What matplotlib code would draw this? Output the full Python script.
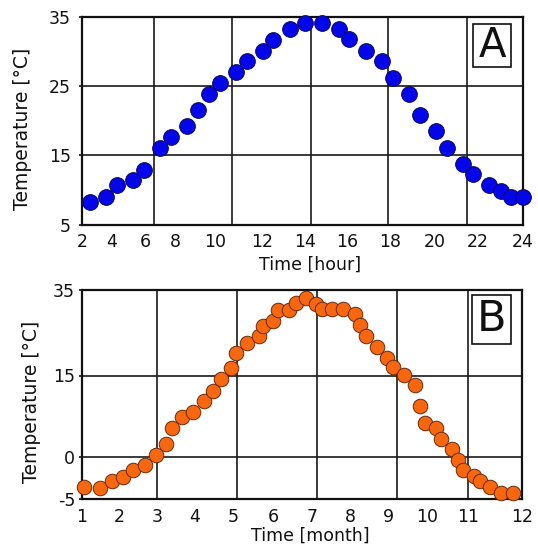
import numpy as np
import matplotlib
matplotlib.use("Agg")
import matplotlib.pyplot as plt
from matplotlib.patches import Rectangle

# ---------------- data ----------------
# Panel A: daily temperature cycle
hour = [2.54, 3.62, 4.34, 5.30, 5.94, 7.00, 7.73, 8.59, 9.17, 9.70, 10.21,
        10.90, 11.36, 12.05, 12.54, 13.32, 14.02, 14.82, 15.62, 16.11, 16.88,
        17.61, 18.15, 18.84, 19.33, 20.05, 20.54, 21.29, 21.78, 22.51, 23.01,
        23.48, 24.00]
temp_hour = [8.2, 9.0, 10.65, 11.4, 12.9, 16.1, 17.65, 19.25, 21.5, 23.85,
             25.5, 27.0, 28.6, 30.1, 31.7, 33.2, 34.1, 34.1, 33.2, 31.8, 30.1,
             28.6, 26.2, 23.85, 20.8, 18.5, 16.1, 13.8, 12.25, 10.65, 9.8,
             9.0, 9.0]

# Panel B: yearly temperature cycle
month = [1.05, 1.48, 1.80, 2.09, 2.37, 2.69, 2.97, 3.24, 3.39, 3.67, 3.96,
         4.23, 4.48, 4.67, 4.93, 5.07, 5.35, 5.63, 5.74, 5.98, 6.13, 6.42,
         6.58, 6.84, 7.11, 7.26, 7.53, 7.83, 8.12, 8.27, 8.42, 8.70, 8.97,
         9.12, 9.40, 9.69, 9.82, 9.95, 10.22, 10.35, 10.62, 10.75, 10.87,
         11.10, 11.21, 11.41, 11.62, 11.83]
temp_month = [-3.6, -3.7, -2.9, -2.35, -1.6, -1.0, 0.37, 2.4, 5.3, 7.3, 8.3,
              10.3, 12.2, 14.3, 16.7, 20.3, 22.7, 24.2, 26.6, 27.8, 30.3,
              30.3, 31.9, 33.1, 31.8, 30.5, 30.5, 30.5, 29.3, 26.8, 24.2,
              21.6, 19.2, 16.9, 15.1, 13.25, 9.3, 6.3, 5.4, 3.3, 1.4, -0.36,
              -1.6, -2.26, -2.9, -3.6, -4.25, -4.25]

hour_ticks = [2, 4, 6, 8, 10, 12, 14, 16, 18, 20, 22, 24]
month_ticks = [1, 2, 3, 4, 5, 6, 7, 8, 9, 10, 11, 12]
tempA_ticks = [5, 15, 25, 35]
tempB_ticks = [-5, 0, 15, 35]

gridA_x = [6.6, 10.73, 14.29, 17.91, 21.49]
gridA_y = [15, 25]
gridB_x = [3.0, 5.1, 7.15, 9.23, 11.0]
gridB_y = [0, 15]

# non-uniform axis scales of the original figure (knots: value -> relative position)
hour_knots = [0, 29.7, 63, 93, 133, 179.7, 223, 265, 308, 353, 396, 440.7]
month_knots = [0, 37.3, 74.7, 113, 151.3, 191.3, 229.7, 268, 306.3, 344.7, 386.3, 439.7]
tempB_knots = [0, 42, 123.5, 209]


def make_scale(vals, knots):
    vals = np.asarray(vals, float)
    knots = np.asarray(knots, float)
    return (lambda v: np.interp(v, vals, knots),
            lambda k: np.interp(k, knots, vals))


W, H = 538, 551
fig = plt.figure(figsize=(W / 100, H / 100), dpi=100)
fig.patch.set_facecolor("white")

FONT = "DejaVu Sans"
plt.rcParams["font.family"] = FONT

axA = fig.add_axes([82 / W, 1 - 224.5 / H, 440.7 / W, 207.5 / H])
axB = fig.add_axes([82 / W, 1 - 499 / H, 439.7 / W, 209 / H])

# ---- panel A ----
axA.set_xscale("function", functions=make_scale(hour_ticks, hour_knots))
axA.set_xlim(2, 24)
axA.set_ylim(5, 35)
axA.set_xticks(hour_ticks)
axA.set_xticklabels([str(t) for t in hour_ticks])
axA.set_yticks(tempA_ticks)
axA.set_yticklabels([str(t) for t in tempA_ticks])
axA.scatter(hour, temp_hour, s=128, c="#0505ea", edgecolors="#0a0a50",
            linewidths=0.7, zorder=3, clip_on=False)

# ---- panel B ----
axB.set_xscale("function", functions=make_scale(month_ticks, month_knots))
axB.set_yscale("function", functions=make_scale(tempB_ticks, tempB_knots))
axB.set_xlim(1, 12)
axB.set_ylim(-5, 35)
axB.set_xticks(month_ticks)
axB.set_xticklabels([str(t) for t in month_ticks])
axB.set_yticks(tempB_ticks)
axB.set_yticklabels([str(t) for t in tempB_ticks])
axB.scatter(month, temp_month, s=110, c="#f7670f", edgecolors="#6a2a08",
            linewidths=0.7, zorder=3, clip_on=False)

for ax, gx, gy, ypad, xpad in ((axA, gridA_x, gridA_y, 5.5, 6.0),
                               (axB, gridB_x, gridB_y, 2.5, 6.5)):
    ax.grid(False)
    for v in gx:
        ax.axvline(v, color="#1a1a1a", linewidth=1.2, zorder=1)
    for v in gy:
        ax.axhline(v, color="#1a1a1a", linewidth=1.2, zorder=1)
    for sp in ax.spines.values():
        sp.set_linewidth(1.6)
        sp.set_color("#111111")
    ax.tick_params(axis="x", which="both", length=0, pad=xpad,
                   labelsize=12.5, colors="#111111")
    ax.tick_params(axis="y", which="major", length=2.5, width=1.2,
                   direction="out", pad=ypad, labelsize=12.5, colors="#111111")
    ax.tick_params(which="minor", length=0, labelbottom=False, labelleft=False)

axA.set_xlabel("Time [hour]", fontsize=12.5, color="#111111")
axA.set_ylabel("Temperature [°C]", fontsize=13.5, color="#111111")
axB.set_xlabel("Time [month]", fontsize=12.5, color="#111111")
axB.set_ylabel("Temperature [°C]", fontsize=13.5, color="#111111")

for ax in (axA, axB):
    ax.xaxis.label.set_va("center")
    ax.yaxis.label.set_va("center")
axA.xaxis.set_label_coords((310.5 - 82) / 440.7, (224.5 - 265) / 207.5)
axB.xaxis.set_label_coords((310.8 - 82) / 439.7, (499 - 536) / 209)
axA.yaxis.set_label_coords((23 - 82) / 440.7, 0.46)
axB.yaxis.set_label_coords((32 - 82) / 439.7, 0.466)

# panel letters in boxes
for ax, letter, (x0, x1, y0, y1), fs in (
        (axA, "A", (0.888, 0.973, 0.758, 0.966), 29),
        (axB, "B", (0.888, 0.976, 0.742, 0.976), 31)):
    ax.add_patch(Rectangle((x0, y0), x1 - x0, y1 - y0, transform=ax.transAxes,
                           facecolor="white", edgecolor="#111111",
                           linewidth=1.2, zorder=4))
    ax.text((x0 + x1) / 2, (y0 + y1) / 2, letter, transform=ax.transAxes,
            ha="center", va="center", fontsize=fs, color="#111111",
            zorder=5, fontfamily="Liberation Sans Narrow")

fig.savefig("out.png", dpi=100, facecolor="white")
